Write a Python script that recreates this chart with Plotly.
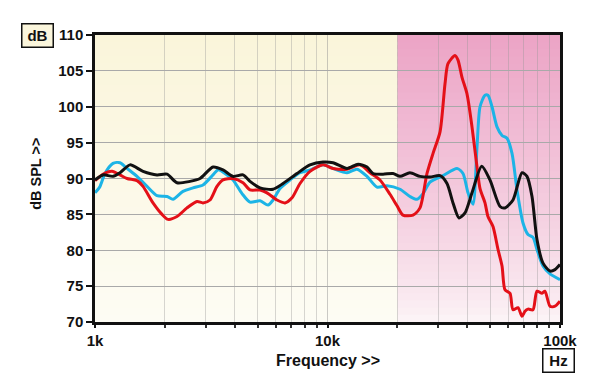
import plotly.graph_objects as go

# ---------------- data ----------------
black_freq = [1000, 1082, 1195, 1281, 1414, 1609, 1848, 2041, 2253, 2562, 2829, 3218, 3552, 3923,
              4331, 4642, 5125, 5831, 6438, 7394, 8410, 9563, 10561, 12133, 13530, 14790, 15696,
              17330, 19130, 20510, 22630, 24990, 27600, 30480, 32660, 34660, 36780, 39030, 41830,
              46050, 49970, 55220, 57990, 62790, 68640, 72120, 75790, 79610, 84510, 90580, 95170,
              100000]
black_db = [89.8, 90.5, 90.3, 90.8, 91.9, 91.0, 90.5, 90.6, 89.4, 89.6, 90.0, 91.6, 91.2, 90.3,
            90.5, 89.6, 88.7, 88.5, 89.3, 90.7, 91.9, 92.3, 92.2, 91.4, 92.0, 91.6, 90.7,
            90.6, 90.7, 90.3, 90.8, 90.3, 90.2, 90.4, 89.3, 86.6, 84.5, 85.2, 88.0,
            91.7, 89.8, 86.1, 85.9, 87.0, 90.8, 90.3, 87.5, 81.5, 78.2, 77.1, 77.3, 78.0]

blue_freq = [1000, 1051, 1104, 1195, 1281, 1373, 1516, 1674, 1848, 2041, 2165, 2390, 2640, 2914,
             3218, 3381, 3697, 3923, 4289, 4642, 5125, 5548, 5831, 6250, 6900, 7617, 8410, 9563,
             10561, 12133, 13397, 14790, 16330, 18030, 20510, 22630, 24260, 25750, 27600, 31400,
             36060, 38260, 40210, 42250, 43960, 45290, 47580, 49000, 50990, 53580, 56320, 59160,
             62170, 65330, 69330, 72840, 76540, 79610, 84510, 90580, 100000]
blue_db = [88.0, 88.9, 90.7, 92.1, 92.2, 91.4, 90.3, 88.9, 87.6, 87.5, 87.1, 88.2, 88.7, 89.1,
           90.5, 91.2, 90.5, 89.8, 87.9, 86.7, 86.9, 86.3, 87.0, 88.6, 89.8, 90.8, 91.2, 91.9,
           91.4, 90.8, 91.3, 90.3, 88.8, 89.0, 88.5, 87.5, 87.1, 87.9, 89.5, 90.4,
           91.4, 90.7, 88.0, 86.4, 94.4, 100.0, 101.6, 101.6, 100.0, 97.2, 96.0, 95.6,
           93.5, 88.4, 83.8, 82.2, 81.8, 80.1, 77.8, 76.7, 75.9]

red_freq = [1000, 1082, 1184, 1281, 1373, 1516, 1609, 1776, 1942, 2061, 2253, 2487, 2747, 2914,
            3123, 3347, 3552, 3923, 4331, 4642, 5125, 5494, 6066, 6566, 7038, 7617, 8410, 9563,
            10561, 12133, 13800, 15236, 16820, 18570, 19910, 21120, 23320, 24990, 26790, 28440,
            30480, 32020, 32980, 35350, 36420, 37890, 39810, 41830, 43960, 45290, 47580, 49000,
            51500, 54140, 56320, 57990, 60950, 62790, 65990, 68640, 70700, 72840, 76540, 79610,
            83680, 86170, 90580, 95170, 100000]
red_db = [89.7, 90.6, 91.0, 90.5, 90.0, 89.7, 88.9, 86.6, 85.0, 84.3, 84.7, 85.9, 86.8, 86.6,
          87.0, 88.9, 89.8, 90.0, 89.4, 88.4, 88.4, 88.0, 87.0, 86.6, 87.3, 89.3, 91.0, 91.9,
          91.4, 91.3, 91.9, 90.8, 89.8, 87.8, 86.2, 84.9, 84.9, 85.9, 90.7, 93.5,
          96.5, 103.2, 106.0, 107.15, 106.5, 104.1, 101.8, 97.2, 91.6, 88.6, 86.6, 84.7,
          83.3, 80.1, 77.8, 74.5, 74.0, 71.7, 72.0, 70.8, 71.5, 71.8, 71.7, 74.3,
          74.0, 74.3, 72.2, 72.2, 72.9]

major_ticks = [1000, 10000, 100000]
major_labels = ["1k", "10k", "100k"]
minor_ticks = [2000, 3000, 4000, 5000, 6000, 7000, 8000, 9000,
               20000, 30000, 40000, 50000, 60000, 70000, 80000, 90000]
y_ticks = [70, 75, 80, 85, 90, 95, 100, 105, 110]

# ---------------- figure ----------------
fig = go.Figure()

# background gradients (cream left of 20k, pink right of 20k)
split = 0.6505
n = 40
y_lo, y_hi = 70, 110
step = (y_hi - y_lo) / n
for i in range(n):
    t = (i + 0.5) / n  # 0 bottom -> 1 top
    y0 = y_lo + step * i
    y1 = min(y_hi, y0 + step * 1.6)
    c_bot = (253, 252, 244)
    c_top = (250, 245, 218)
    cc = tuple(int(round(c_bot[k] + (c_top[k] - c_bot[k]) * t)) for k in range(3))
    p_bot = (252, 245, 247)
    p_top = (236, 164, 198)
    tp = t ** 0.8
    pc = tuple(int(round(p_bot[k] + (p_top[k] - p_bot[k]) * tp)) for k in range(3))
    fig.add_shape(type="rect", xref="x domain", yref="y", x0=0, x1=split, y0=y0, y1=y1,
                  fillcolor="rgb(%d,%d,%d)" % cc, line=dict(width=0), layer="below")
    fig.add_shape(type="rect", xref="x domain", yref="y", x0=split, x1=1, y0=y0, y1=y1,
                  fillcolor="rgb(%d,%d,%d)" % pc, line=dict(width=0), layer="below")

line_kw = dict(shape="spline", smoothing=0.7, width=3)
fig.add_trace(go.Scatter(x=blue_freq, y=blue_db, mode="lines",
                         line=dict(color="#1cb4e6", **line_kw), showlegend=False))
fig.add_trace(go.Scatter(x=red_freq, y=red_db, mode="lines",
                         line=dict(color="#e41018", **line_kw), showlegend=False))
fig.add_trace(go.Scatter(x=black_freq, y=black_db, mode="lines",
                         line=dict(color="#111111", **line_kw), showlegend=False))

tick_font = dict(family="Liberation Sans, Arial, sans-serif", size=15, color="#111", weight="bold")

fig.update_xaxes(type="log", range=[3, 5],
                 tickvals=major_ticks, ticktext=major_labels,
                 ticks="outside", ticklen=3, tickwidth=1.5, tickcolor="#111",
                 tickfont=tick_font,
                 showgrid=True, gridcolor="rgba(140,140,140,0.45)", gridwidth=1,
                 minor=dict(tickvals=minor_ticks, ticks="outside", ticklen=3, tickcolor="#333",
                            showgrid=True, gridcolor="rgba(150,150,150,0.38)", gridwidth=1),
                 showline=True, linecolor="#111", linewidth=2.5, mirror=True,
                 zeroline=False)
fig.update_yaxes(range=[70, 110], tickvals=y_ticks,
                 ticks="outside", ticklen=6, tickwidth=1.5, tickcolor="#111",
                 tickfont=tick_font,
                 showgrid=True, gridcolor="#a9a9a9", gridwidth=1,
                 showline=True, linecolor="#111", linewidth=2.5, mirror=True,
                 zeroline=False)

lab_font = dict(family="Liberation Sans, Arial, sans-serif", size=16, color="#111", weight="bold")
fig.add_annotation(text="Frequency >>", xref="paper", yref="paper", x=0.5, y=-0.134,
                   xanchor="center", yanchor="middle", showarrow=False, font=lab_font)
fig.add_annotation(text="dB SPL >>", xref="paper", yref="paper", x=-0.127, y=0.516,
                   xanchor="center", yanchor="middle",
                   textangle=-90, showarrow=False,
                   font=dict(family="Liberation Sans, Arial, sans-serif", size=14.5,
                             color="#111", weight="bold"))
box_font = dict(family="Liberation Sans, Arial, sans-serif", size=15, color="#111", weight="bold")
fig.add_annotation(text="dB", xref="paper", yref="paper", x=-0.1237, y=1.0,
                   xanchor="center", yanchor="middle",
                   showarrow=False, font=box_font, bgcolor="#fbf6dc",
                   bordercolor="#111", borderwidth=1.5, borderpad=2, width=26, height=18)
fig.add_annotation(text="Hz", xref="paper", yref="paper", x=0.997, y=-0.134,
                   xanchor="center", yanchor="middle",
                   showarrow=False, font=box_font, bgcolor="#ffffff",
                   bordercolor="#111", borderwidth=1.5, borderpad=2, width=26, height=18)

# page body has an 8px default margin, so the figure is offset by 8px
fig.update_layout(width=592, height=381,
                  margin=dict(l=87, r=40, t=26.5, b=66.5, autoexpand=False),
                  paper_bgcolor="white", plot_bgcolor="#fcf9e8")

fig.write_html("out.html")
